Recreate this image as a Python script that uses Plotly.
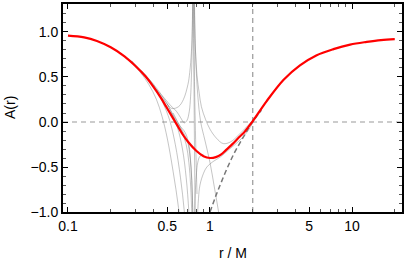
import plotly.graph_objects as go

# red curve A(r)
r_red = [0.1, 0.13, 0.16, 0.2, 0.25, 0.3, 0.35, 0.4, 0.45, 0.5, 0.55, 0.6, 0.65, 0.7, 0.8, 0.9, 1.0,
         1.1, 1.2, 1.3, 1.45, 1.6, 1.75, 2.0, 2.5, 3.3, 4.3, 5.6, 7.4, 9.7, 12.7, 16.0, 20.0]
A_red = [0.96, 0.94, 0.90, 0.83, 0.73, 0.62, 0.51, 0.39, 0.27, 0.15, 0.04, -0.06, -0.15, -0.22, -0.32,
         -0.38, -0.40, -0.39, -0.36, -0.31, -0.24, -0.17, -0.11, 0.01, 0.23, 0.47, 0.63, 0.74, 0.81,
         0.86, 0.89, 0.91, 0.92]

# Schwarzschild reference (dashed)
r_schw = [1.0, 1.1, 1.2, 1.35, 1.5, 1.7, 1.9, 2.1, 2.3]
A_schw = [-1.0, -0.82, -0.67, -0.48, -0.33, -0.18, -0.05, 0.05, 0.13]

# thin gray family curves
gray_r = [
    [0.28, 0.35, 0.40, 0.45, 0.50, 0.54, 0.60, 0.65, 0.70, 0.72, 0.74, 0.75, 0.757],
    [0.35, 0.42, 0.48, 0.53, 0.58, 0.62, 0.66, 0.69, 0.715, 0.73, 0.74, 0.75, 0.756],
    [0.26, 0.32, 0.37, 0.42, 0.46, 0.50, 0.55, 0.60, 0.63],
    [0.28, 0.36, 0.42, 0.47, 0.52, 0.57, 0.62, 0.66, 0.69],
    [0.33, 0.40, 0.47, 0.53, 0.59, 0.64, 0.68, 0.71, 0.73],
    [0.45, 0.55, 0.63, 0.68, 0.71, 0.73, 0.745, 0.752],
    [0.50, 0.60, 0.67, 0.71, 0.735, 0.75, 0.758, 0.763],
    [0.55, 0.63, 0.69, 0.725, 0.745, 0.755, 0.762, 0.766],
    [0.772, 0.78, 0.79, 0.81, 0.84, 0.87, 0.93, 1.0, 1.11, 1.24, 1.4, 1.6, 1.8, 2.0, 2.3],
    [0.80, 0.815, 0.83, 0.85, 0.9, 0.95, 1.05, 1.18, 1.35, 1.63, 1.85, 2.05, 2.3],
    [0.775, 0.79, 0.82, 0.86, 0.92, 1.0, 1.08, 1.15, 1.2],
    [0.763, 0.768, 0.773, 0.778, 0.783, 0.79],
    [0.766, 0.772, 0.778, 0.785, 0.795, 0.81],
    [0.769, 0.775, 0.782, 0.79, 0.80, 0.82, 0.85, 0.9],
]
gray_A = [
    [0.68, 0.50, 0.40, 0.29, 0.20, 0.15, 0.17, 0.25, 0.42, 0.55, 0.78, 1.05, 1.5],
    [0.51, 0.36, 0.26, 0.18, 0.12, 0.05, -0.01, 0.02, 0.12, 0.28, 0.5, 0.9, 1.5],
    [0.71, 0.56, 0.42, 0.25, 0.06, -0.18, -0.55, -0.95, -1.3],
    [0.68, 0.50, 0.36, 0.20, 0.02, -0.25, -0.62, -1.0, -1.4],
    [0.57, 0.42, 0.27, 0.12, -0.06, -0.30, -0.62, -1.0, -1.4],
    [0.28, 0.06, -0.10, -0.25, -0.45, -0.7, -1.05, -1.5],
    [0.20, -0.02, -0.12, -0.25, -0.5, -0.8, -1.1, -1.5],
    [0.10, -0.08, -0.2, -0.4, -0.65, -0.95, -1.2, -1.5],
    [1.6, 1.1, 0.8, 0.52, 0.32, 0.17, 0.03, -0.08, -0.18, -0.24, -0.22, -0.14, -0.06, 0.02, 0.14],
    [-1.5, -1.1, -0.85, -0.7, -0.57, -0.5, -0.44, -0.39, -0.31, -0.2, -0.1, 0.02, 0.13],
    [1.5, 0.8, 0.3, 0.0, -0.2, -0.45, -0.75, -1.0, -1.2],
    [1.5, 0.8, 0.2, -0.3, -0.8, -1.5],
    [1.5, 0.9, 0.45, 0.1, -0.3, -0.8],
    [-1.5, -1.2, -0.95, -0.75, -0.6, -0.45, -0.38, -0.36],
]

horizon = 2.0
x_ticks = [0.1, 0.5, 1, 5, 10]
x_ticktext = ["0.1", "0.5", "1", "5", "10"]
x_minor = [0.2, 0.3, 0.4, 0.6, 0.7, 0.8, 0.9, 2, 3, 4, 6, 7, 8, 9, 20]
y_ticks = [-1.0, -0.5, 0.0, 0.5, 1.0]
y_ticktext = ["\u22121.0", "\u22120.5", "0.0", "0.5", "1.0"]

fig = go.Figure()
for rr, aa in zip(gray_r, gray_A):
    fig.add_trace(go.Scatter(x=rr, y=aa, mode="lines", line=dict(color="rgba(110,110,110,0.5)", width=0.8, shape="spline"),
                             hoverinfo="skip", showlegend=False))
fig.add_trace(go.Scatter(x=r_schw, y=A_schw, mode="lines",
                         line=dict(color="#777777", width=1.5, dash="5px,3px", shape="spline"), showlegend=False))
fig.add_trace(go.Scatter(x=r_red, y=A_red, mode="lines",
                         line=dict(color="#ff0000", width=2.2, shape="spline"), showlegend=False))

fig.add_shape(type="line", xref="paper", x0=0, x1=1, yref="y", y0=0, y1=0,
              line=dict(color="#999999", width=1.2, dash="5px,4px"), layer="below")
fig.add_shape(type="line", xref="x", x0=horizon, x1=horizon, yref="paper", y0=0, y1=1,
              line=dict(color="#999999", width=1.2, dash="5px,4px"), layer="below")

fnt = dict(family="Liberation Sans, Arial, sans-serif", size=14, color="black")
fig.add_annotation(text="r / M", xref="paper", yref="paper", x=0.5, y=0, yshift=-41,
                   showarrow=False, font=fnt, xanchor="center", yanchor="middle")
fig.add_annotation(text="A(r)", xref="paper", yref="paper", x=0, y=0.5, xshift=-53,
                   showarrow=False, font=fnt, textangle=-90, xanchor="center", yanchor="middle")
fig.update_layout(
    width=406, height=266, margin=dict(l=63, r=4, t=4, b=54, autoexpand=False),
    plot_bgcolor="white", paper_bgcolor="white", font=fnt,
    xaxis=dict(type="log", range=[-1.035, 1.352], tickvals=x_ticks, ticktext=x_ticktext, automargin=False,
               ticks="inside", ticklen=5, tickwidth=1, tickcolor="black", showgrid=False, zeroline=False,
               showline=True, linewidth=2, linecolor="black", mirror="allticks",
               minor=dict(tickvals=x_minor, ticks="inside", ticklen=3, tickcolor="#555555")),
    yaxis=dict(range=[-1.0, 1.311], tickvals=y_ticks, ticktext=y_ticktext, automargin=False,
               ticks="inside", ticklen=5, tickwidth=1, tickcolor="black", showgrid=False, zeroline=False,
               showline=True, linewidth=2, linecolor="black", mirror="allticks",
               minor=dict(dtick=0.1, ticks="inside", ticklen=3, tickcolor="#555555")),
)
fig.write_html("out.html", config={"displayModeBar": False},
               post_script="document.body.style.margin='0';document.body.style.overflow='hidden';")
